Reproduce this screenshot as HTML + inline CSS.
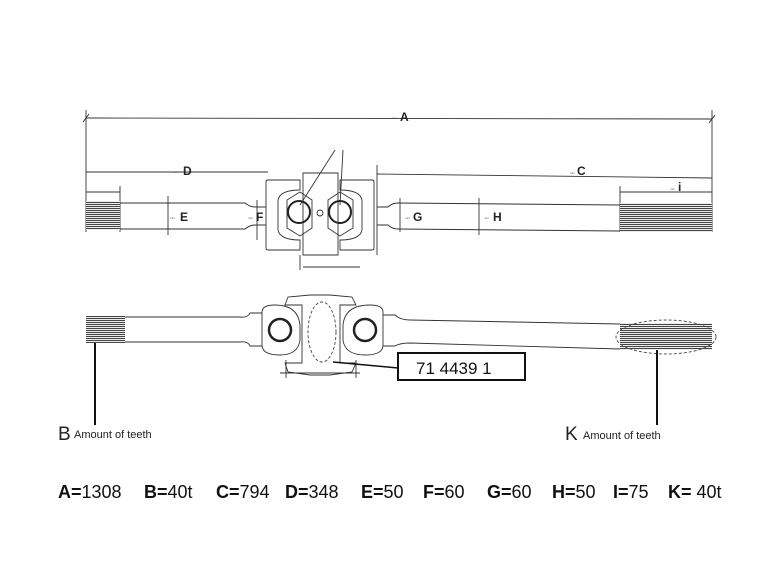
<!DOCTYPE html>
<html><head><meta charset="utf-8"><style>
html,body{margin:0;padding:0;background:#fff;width:770px;height:578px;overflow:hidden}
svg{display:block}
text{font-family:"Liberation Sans",Arial,sans-serif}
</style></head><body>
<svg width="770" height="578" viewBox="0 0 770 578" xmlns="http://www.w3.org/2000/svg">
<defs>
<pattern id="spl" width="4" height="2" patternUnits="userSpaceOnUse">
<rect width="4" height="2" fill="#fff"/><rect width="4" height="1.1" fill="#444"/>
</pattern>
</defs>
<g stroke="#333" stroke-width="0.9" fill="none">
<line x1="86" y1="118" x2="712" y2="119"/>
<line x1="86" y1="110" x2="86" y2="232"/>
<line x1="712" y1="110" x2="712" y2="232"/>
<line x1="83" y1="122" x2="89" y2="114"/><line x1="709" y1="123" x2="715" y2="115"/>
<line x1="86" y1="172" x2="268" y2="172"/>
<line x1="377" y1="174" x2="712" y2="178"/>
<line x1="377" y1="165" x2="377" y2="255"/>
<line x1="620" y1="192" x2="712" y2="192"/>
<line x1="620" y1="186" x2="620" y2="232"/>
<line x1="86" y1="192" x2="120" y2="192"/><line x1="120" y1="186" x2="120" y2="232"/>
<line x1="168" y1="196" x2="168" y2="235"/>
<line x1="257" y1="200" x2="257" y2="240"/>
<line x1="400" y1="198" x2="400" y2="232"/>
<line x1="479" y1="198" x2="479" y2="235"/>
<path d="M120 203 L245 203 Q250 207 255 207 L266 207 M120 229 L245 229 Q250 225 255 225 L266 225"/>
<path d="M377 207 L388 207 Q392 203 398 203 L620 205 M377 225 L388 225 Q392 229 398 229 L620 231"/>
<path d="M266 182 Q266 180 268 180 L300 180 L300 190 Q280 190 278 200 L278 230 Q280 240 300 240 L300 250 L268 250 Q266 250 266 248 Z"/>
<path d="M374 182 Q374 180 372 180 L340 180 L340 190 Q360 190 362 200 L362 230 Q360 240 340 240 L340 250 L372 250 Q374 250 374 248 Z"/>
<path d="M303 173 L338 173 L338 255 L303 255 Z"/>
<path d="M300 192 L287 200 L287 228 L300 236 L312 228 L312 200 Z"/>
<path d="M340 192 L328 200 L328 228 L340 236 L353 228 L353 200 Z"/>
<circle cx="320" cy="213" r="3"/>
<line x1="303" y1="267" x2="360" y2="267"/><line x1="300" y1="255" x2="300" y2="270"/>
<line x1="300" y1="205" x2="335" y2="150"/><line x1="340" y1="205" x2="343" y2="150"/>
</g>
<circle cx="299" cy="212" r="11" stroke="#222" stroke-width="2" fill="none"/>
<circle cx="340" cy="212" r="11" stroke="#222" stroke-width="2" fill="none"/>
<rect x="86" y="201" width="34" height="29" fill="url(#spl)"/>
<rect x="620" y="203" width="92" height="29" fill="url(#spl)"/>
<g font-weight="bold" font-size="12" fill="#222">
<text x="400" y="121">A</text><text x="183" y="175">D</text><text x="577" y="175">C</text>
<text x="678" y="191">i</text><text x="180" y="221">E</text><text x="256" y="221">F</text>
<text x="413" y="221">G</text><text x="493" y="221">H</text>
</g>
<g font-size="3" fill="#555"><text x="392" y="119">mm</text><text x="173" y="173">mm</text><text x="570" y="174">mm</text><text x="670" y="190">mm</text><text x="170" y="219">mm</text><text x="248" y="219">mm</text><text x="405" y="219">mm</text><text x="484" y="219">mm</text></g>

<g stroke="#333" stroke-width="0.9" fill="none">
<path d="M125 317 L240 317 Q248 318 250 313 L262 313 M125 342 L240 342 Q248 341 250 346 L262 346"/>
<path d="M262 312 Q262 305 275 305 Q298 305 300 325 L300 340 Q298 355 280 355 Q262 355 262 345 Z"/>
<path d="M383 312 Q383 305 370 305 Q345 305 343 325 L343 340 Q345 355 365 355 Q383 355 383 345 Z"/>
<path d="M383 315 L395 315 Q400 320 410 320 L620 324 M383 346 L395 346 Q400 343 410 343 L620 349"/>
<path d="M302 305 L285 305 L288 297 L310 295 L330 295 L352 297 L356 305 L340 305 L340 363 L356 363 L352 372 L330 375 L310 375 L288 372 L285 363 L302 363 Z"/>
<line x1="280" y1="373" x2="360" y2="373"/>
<line x1="286" y1="360" x2="286" y2="378"/><line x1="356" y1="360" x2="356" y2="378"/>
</g>
<circle cx="280" cy="330" r="11" stroke="#222" stroke-width="2.5" fill="none"/>
<circle cx="365" cy="330" r="11" stroke="#222" stroke-width="2.5" fill="none"/>
<rect x="86" y="316" width="39" height="27" fill="url(#spl)"/>
<rect x="620" y="323" width="92" height="27" fill="url(#spl)"/>
<ellipse cx="322" cy="332" rx="14" ry="30" stroke="#444" stroke-width="0.9" stroke-dasharray="3,2" fill="none"/>
<ellipse cx="666" cy="337" rx="50" ry="17" stroke="#444" stroke-width="0.9" stroke-dasharray="3,2" fill="none"/>
<line x1="333" y1="362" x2="398" y2="368" stroke="#111" stroke-width="1.5"/>
<rect x="398" y="353" width="127" height="27" stroke="#111" stroke-width="2" fill="#fff"/>
<text x="416" y="374" font-size="17" fill="#111">71 4439 1</text>
<line x1="95" y1="343" x2="95" y2="425" stroke="#111" stroke-width="2"/>
<line x1="657" y1="350" x2="657" y2="425" stroke="#111" stroke-width="2"/>
<text x="58" y="440" font-size="19" fill="#222">B</text><text x="74" y="438" font-size="11" fill="#222">Amount of teeth</text>
<text x="565" y="440" font-size="19" fill="#222">K</text><text x="583" y="439" font-size="11" fill="#222">Amount of teeth</text>

<g font-size="18" fill="#111">
<text x="58" y="498"><tspan font-weight="bold">A=</tspan>1308</text>
<text x="144" y="498"><tspan font-weight="bold">B=</tspan>40t</text>
<text x="216" y="498"><tspan font-weight="bold">C=</tspan>794</text>
<text x="285" y="498"><tspan font-weight="bold">D=</tspan>348</text>
<text x="361" y="498"><tspan font-weight="bold">E=</tspan>50</text>
<text x="423" y="498"><tspan font-weight="bold">F=</tspan>60</text>
<text x="487" y="498"><tspan font-weight="bold">G=</tspan>60</text>
<text x="552" y="498"><tspan font-weight="bold">H=</tspan>50</text>
<text x="613" y="498"><tspan font-weight="bold">I=</tspan>75</text>
<text x="668" y="498"><tspan font-weight="bold">K=</tspan> 40t</text>
</g>
</svg>
</body></html>
